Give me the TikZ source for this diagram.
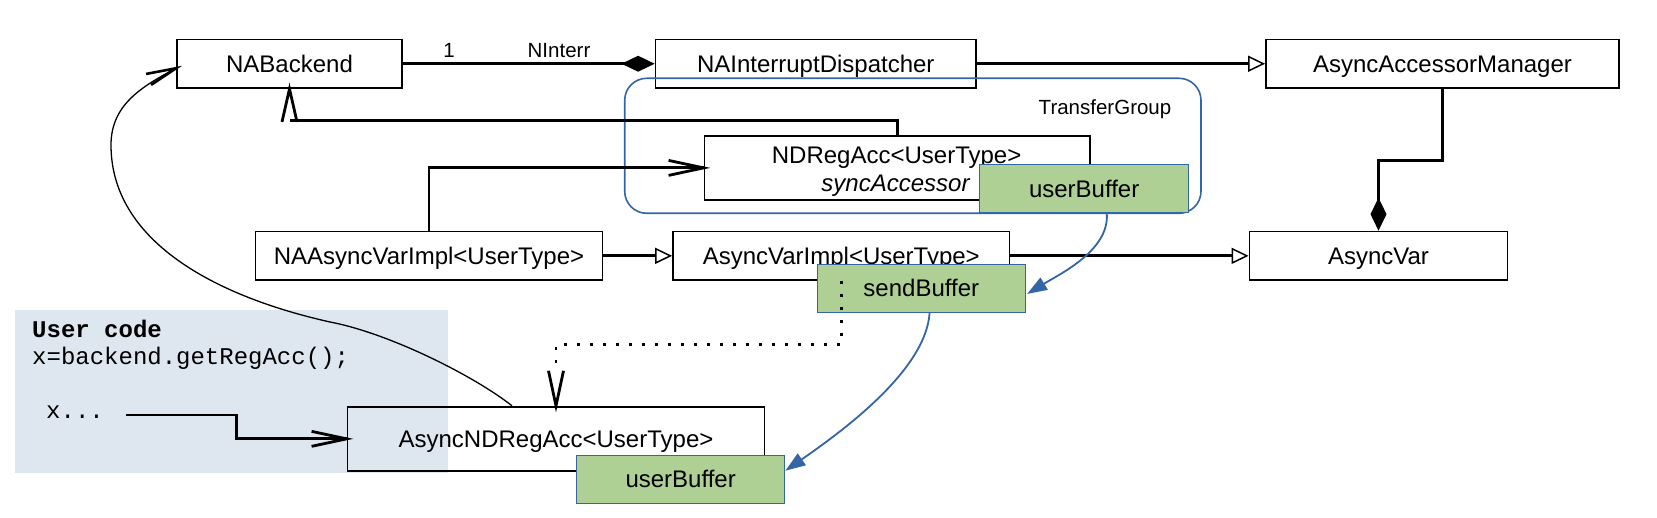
\documentclass[tikz,border=0pt]{standalone}
\usepackage{fontspec}
\setmainfont{Liberation Sans}
\setmonofont{Liberation Mono}
\usetikzlibrary{arrows.meta,calc}
\definecolor{lblue}{HTML}{3465A4}
\definecolor{lgreen}{HTML}{AFD095}
\definecolor{ucbg}{HTML}{DEE6EF}
\begin{document}
\begin{tikzpicture}[x=1pt,y=-1pt,
  txt/.style={inner sep=0pt, text height=17.2pt, text depth=0pt, font=\fontsize{24}{28}\selectfont},
  cls/.style={txt, draw=black, line width=1.8pt, minimum height=48.5pt},
  buf/.style={txt, draw=lblue, line width=1pt, fill=lgreen, minimum width=208.5pt, minimum height=48pt},
  conn/.style={line width=2.8pt},
  inh/.style={conn, -{Triangle[open, length=17pt, width=16pt, line width=1.5pt]}},
  comp/.style={conn, -{Diamond[length=33pt, width=16pt]}},
  vhead/.style={line width=2.8pt, line join=miter, miter limit=20},
  flow/.style={draw=lblue, line width=1.8pt, -{Triangle[length=20pt,width=14pt]}},
  small/.style={font=\fontsize{20.5}{24}\selectfont, inner sep=0pt, text height=14.7pt, text depth=0pt},
  code/.style={font=\fontsize{24}{28}\selectfont\ttfamily, inner sep=0pt, anchor=base west},
]
\useasboundingbox (0,0) rectangle (1657,518);
\fill[white] (0,0) rectangle (1657,518);
\fill[ucbg] (15,310) rectangle (448,473.3);

% classes
\node[cls, minimum width=225pt] (nab) at (289.5,63.75) {NABackend};
\node[cls, minimum width=320.5pt] (naid) at (815.75,63.75) {NAInterruptDispatcher};
\node[cls, minimum width=353pt] (aam) at (1442.5,63.75) {AsyncAccessorManager};
\node[cls, minimum width=385.5pt, minimum height=64.3pt] (ndr) at (897.25,167.9) {};
\node[txt] (ndrt) at (896.6,154.5) {NDRegAcc<UserType>};
\node[txt] (ndrs) at (895.5,182.5) {\itshape syncAccessor};
\node[cls, minimum width=347pt] (navi) at (429,255.85) {NAAsyncVarImpl<UserType>};
\node[cls, minimum width=336.5pt] (avi) at (841.25,255.85) {AsyncVarImpl<UserType>};
\node[cls, minimum width=258pt] (av) at (1378.5,255.85) {AsyncVar};
\node[cls, minimum width=417pt, minimum height=64.3pt] (andr) at (556,438.85) {AsyncNDRegAcc<UserType>};

% transfer group
\node[draw=lblue, line width=1.6pt, rounded corners=22pt, minimum width=576.3pt, minimum height=135pt, inner sep=0pt] (tg) at (912.85,145.8) {};
\node[small] (tgl) at (1105,106.7) {TransferGroup};

% buffers
\node[buf] (ub1) at (1084.15,188.75) {userBuffer};
\node[buf] (sb) at (921.3,288.3) {sendBuffer};
\node[buf] (ub2) at (680.65,479) {userBuffer};

% user code
\node[code, font=\fontsize{24}{28}\selectfont\ttfamily\bfseries] (uc1) at (32,337.3) {User code};
\node[code] (uc2) at (32,365) {x=backend.getRegAcc();};
\node[code] (uc3) at (46,418) {x...};

% labels
\node[small] (l1) at (449,50) {1};
\node[small] (lni) at (559,50) {NInterr};

% connectors
\draw[comp] (nab.east) -- (naid.west);
\draw[inh] (naid.east) -- (aam.west);
\draw[conn] (ndr.north) |- ($(nab.south)+(0,32)$);
\draw[vhead] ($(nab.south)+(-7.5,33)$) -- (nab.south) -- ($(nab.south)+(7.5,33)$);
\draw[conn] (navi.north) |- (ndr.west);
\draw[vhead] ($(ndr.west)+(-35,-7.5)$) -- (ndr.west) -- ($(ndr.west)+(-35,7.5)$);
\draw[inh] (navi.east) -- (avi.west);
\draw[inh] (avi.east) -- (av.west);
\draw[comp] (aam.south) -- ++(0,72) -| (av.north);
\coordinate (xs) at (126.3,415);
\draw[conn] (xs) -- ++(110.2,0) |- (andr.west);
\draw[vhead] ($(andr.west)+(-35,-7.5)$) -- (andr.west) -- ($(andr.west)+(-35,7.5)$);
\draw[conn, dash pattern=on 3pt off 10pt] (avi.south) -- ++(0,63.3) -| ($(andr.north)+(0,-35)$);
\draw[vhead] ($(andr.north)+(-7.5,-35)$) -- (andr.north) -- ($(andr.north)+(7.5,-35)$);

% curve back to backend
\coordinate (cs) at ($(andr.north)+(-44,0)$);
\coordinate (w1) at (330,322);
\coordinate (w2) at (111,145);
\coordinate (ce) at ($(nab.west)+(0,4.5)$);
\draw[line width=1.3pt] (cs) .. controls (473.5,375.5) and (388.6,333.1) .. (w1) .. controls (212.9,295.8) and (111,240) .. (w2) .. controls (111,105) and (141.4,86.65) .. (ce);
\draw[vhead, line width=2.6pt] ($(ce)+(-30,5.7)$) -- (ce) -- ($(ce)+(-25,16.7)$);

% buffer flows
\draw[flow] ($(ub1.south)+(22.6,0)$) .. controls (1110,250) and (1060,274) .. ($(sb.east)+(1,5.7)$);
\draw[flow] ($(sb.south)+(8.3,0)$) .. controls (926,370) and (843,430.8) .. ($(ub2.east)+(0,-8.3)$);
\end{tikzpicture}
\end{document}
